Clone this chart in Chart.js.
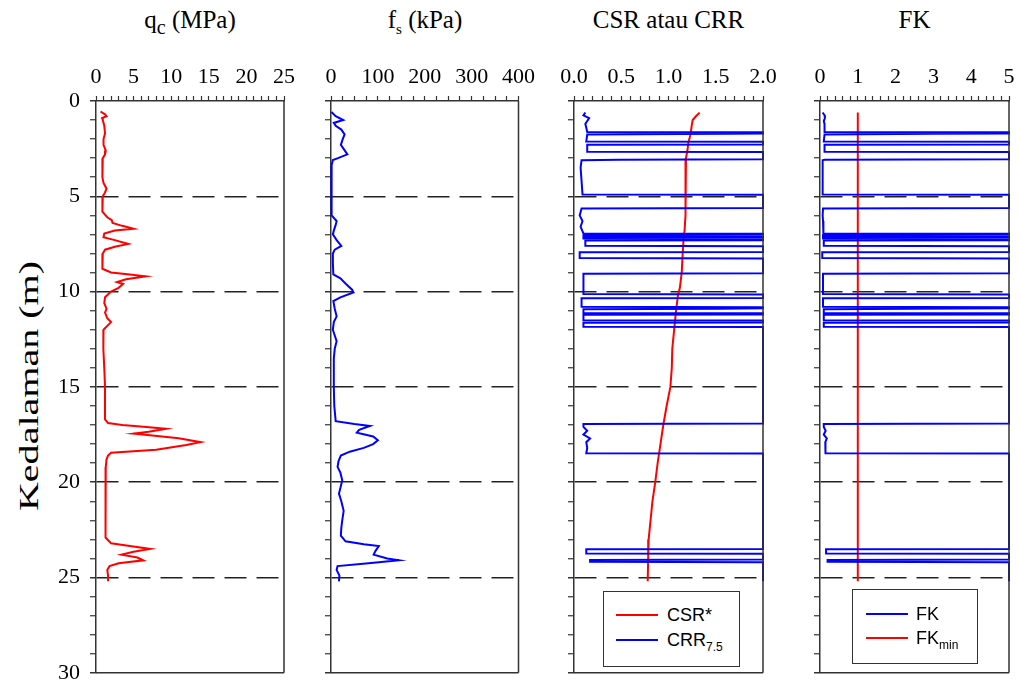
<!DOCTYPE html>
<html><head><meta charset="utf-8">
<script src="https://cdn.jsdelivr.net/npm/chart.js@4.4.0/dist/chart.umd.min.js"></script>
<style>
html,body{margin:0;padding:0;background:#fff;width:1020px;height:684px;overflow:hidden;position:relative;font-family:"Liberation Serif","Times New Roman",serif;color:#000}
canvas{position:absolute;top:0}
.title{position:absolute;top:7px;font-size:25px;line-height:25px;text-align:center;white-space:nowrap}
.title sub{font-size:20px;vertical-align:-6px;line-height:0}
.ylab{position:absolute;left:29px;top:386px;font-size:28px;line-height:28px;white-space:nowrap;transform:translate(-50%,-50%) rotate(-90deg) scaleX(1.43)}
.legend{position:absolute;border:1px solid #333;background:#fff;font-family:"Liberation Sans",Arial,sans-serif;font-size:18px;color:#000}
.legend .sw{position:absolute;height:2px}
.legend .tx{position:absolute;line-height:20px}
.legend sub{font-size:12px;vertical-align:-5px;line-height:0}
</style></head>
<body>
<div class="title" style="left:96px;width:188px">q<sub>c</sub> (MPa)</div>
<div class="title" style="left:331px;width:188px">f<sub style="font-size:15px">s</sub> (kPa)</div>
<div class="title" style="left:574px;width:189px">CSR atau CRR</div>
<div class="title" style="left:820px;width:189px">FK</div>
<div class="ylab">Kedalaman (m)</div>

<canvas id="c0"></canvas><canvas id="c1"></canvas><canvas id="c2"></canvas><canvas id="c3"></canvas>

<div class="legend" style="left:603px;top:591px;width:135px;height:74px">
  <div class="sw" style="left:12px;top:22px;width:42px;background:#ff0000"></div>
  <div class="tx" style="left:63px;top:13px">CSR*</div>
  <div class="sw" style="left:12px;top:47px;width:42px;background:#0000ff"></div>
  <div class="tx" style="left:63px;top:38px">CRR<sub>7.5</sub></div>
</div>
<div class="legend" style="left:852px;top:589px;width:124px;height:73px">
  <div class="sw" style="left:13px;top:23px;width:42px;background:#0000ff"></div>
  <div class="tx" style="left:63px;top:14px">FK</div>
  <div class="sw" style="left:13px;top:47px;width:42px;background:#ff0000"></div>
  <div class="tx" style="left:63px;top:38px">FK<sub>min</sub></div>
</div>

<script>
// ---- data (depth in m) ----
const depthTicks = [0, 5, 10, 15, 20, 25, 30];

const qcDepth = [0.55,0.7,0.8,0.9,1.0,1.3,1.7,2.0,2.3,2.6,2.8,3.0,3.5,4.0,4.3,4.6,4.8,5.0,5.4,5.8,
  6.1,6.25,6.4,6.55,6.7,6.8,6.95,7.15,7.3,7.5,7.65,7.8,8.0,8.4,8.8,9.0,9.1,9.2,9.35,9.5,
  9.6,9.8,10.0,10.3,10.6,10.9,11.1,11.4,11.6,11.8,12.0,12.5,13.0,14.0,15.0,16.0,16.7,16.9,17.0,17.1,
  17.2,17.35,17.45,17.55,17.7,17.9,18.05,18.3,18.45,18.6,18.8,19.2,19.5,20.0,21.0,22.0,22.6,22.9,23.2,23.35,
  23.5,23.65,23.8,23.95,24.1,24.25,24.4,24.6,24.9,25.2];
const qcValue = [0.6,1.2,1.4,0.8,0.9,1.1,1.2,1.0,1.0,1.3,1.2,0.9,0.8,0.9,1.0,1.4,1.2,0.9,0.8,0.9,
  1.5,2.1,2.2,3.5,5.0,2.5,1.1,1.0,2.5,4.3,2.5,1.2,0.9,0.8,0.9,2.0,4.5,6.6,4.0,2.8,
  3.6,3.0,2.0,1.2,1.1,1.4,1.2,1.5,2.0,1.5,1.0,0.95,1.0,1.1,1.2,1.2,1.2,1.6,3.5,6.7,
  9.3,7.0,5.0,7.5,11.0,13.9,12.0,8.0,2.0,1.6,1.4,1.3,1.2,1.3,1.3,1.3,1.3,1.2,2.0,4.5,
  7.2,5.0,3.4,5.5,6.3,3.0,1.8,1.5,1.6,1.6];

const fsDepth = [0.58,0.8,1.0,1.15,1.3,1.5,1.75,2.0,2.3,2.55,2.8,3.0,3.1,3.4,4.0,5.0,6.0,6.3,6.5,6.8,
  7.0,7.3,7.6,7.8,8.0,8.5,9.1,9.3,9.6,9.9,10.05,10.3,10.5,10.9,11.3,11.6,12.0,12.3,12.6,13.0,
  13.5,14.0,15.0,16.0,16.8,16.95,17.05,17.25,17.4,17.6,17.8,18.0,18.2,18.4,18.6,18.9,19.2,19.5,19.9,20.3,
  20.6,21.0,21.5,22.0,22.4,22.8,23.1,23.25,23.35,23.6,23.8,24.0,24.1,24.25,24.4,24.6,24.9,25.2];
const fsValue = [1,10,26,6,10,22,29,25,21,28,35,15,4,1,1,1,2,12,10,6,
  4,12,22,8,4,4,5,20,32,45,48,20,5,8,12,6,4,8,12,8,
  6,6,6,7,10,50,83,60,55,90,100,90,70,40,21,16,14,20,24,20,
  17,22,27,24,22,21,31,70,102,95,91,120,145,80,14,12,18,17];

const csrDepth = [0.61,0.8,1.0,1.3,1.7,2.2,2.6,3.0,4.0,5.0,6.0,6.8,7.2,8.0,9.0,9.8,10.2,11.0,11.5,12.0,
  13.0,14.0,15.0,16.0,17.0,18.0,19.0,20.0,21.0,22.0,23.0,24.0,25.2];
const csrValue = [1.33,1.29,1.256,1.245,1.235,1.21,1.2,1.185,1.18,1.18,1.18,1.17,1.16,1.15,1.14,1.12,1.1,1.08,1.07,1.06,
  1.04,1.035,1.02,0.98,0.945,0.915,0.885,0.86,0.83,0.81,0.79,0.785,0.78];

const crrDepth = [0.6,0.75,0.9,1.05,1.2,1.4,1.62,1.64,1.7,1.72,
  1.76,2.12,2.14,2.28,2.3,2.66,2.68,3.06,3.08,3.11,
  3.5,4.2,4.9,4.92,5.62,5.64,6.0,6.3,6.6,6.95,
  6.97,7.02,7.04,7.08,7.1,7.16,7.18,7.22,7.24,7.3,
  7.32,7.6,7.62,7.92,7.94,8.24,8.26,9.04,9.06,9.5,
  10.13,10.15,10.33,10.35,10.8,10.82,10.88,10.9,10.93,11.12,
  11.14,11.2,11.22,11.5,11.52,11.62,11.64,11.84,11.86,16.92,
  16.94,17.1,17.3,17.5,17.7,17.9,18.2,18.48,18.5,23.5,
  23.52,23.74,23.76,24.06,24.08,24.18,24.2,25.2];
const crrValue = [0.12,0.1,0.16,0.14,0.12,0.13,0.14,2.0,2.0,1.63,
  0.14,0.13,2.0,2.0,0.14,0.14,2.0,2.0,0.48,0.08,
  0.07,0.08,0.09,2.0,2.0,0.08,0.06,0.09,0.07,0.1,
  2.0,2.0,0.1,0.1,2.0,2.0,0.1,0.1,2.0,2.0,
  0.12,0.12,2.0,2.0,0.06,0.06,2.0,2.0,0.1,0.1,
  0.1,2.0,2.0,0.08,0.08,2.0,2.0,1.55,0.1,0.1,
  2.0,2.0,0.1,0.1,2.0,2.0,0.1,0.1,2.0,2.0,
  0.1,0.1,0.14,0.1,0.17,0.13,0.14,0.13,2.0,2.0,
  0.13,0.13,2.0,2.0,0.17,0.17,2.0,2.0];

const fkDepth = crrDepth;
const fkValue = [0.07,0.12,0.13,0.1,0.12,0.12,0.12,5,5,3.04,
  0.12,0.1,5,5,0.12,0.12,5,5,0.12,0.07,
  0.07,0.07,0.07,5,5,0.08,0.07,0.08,0.1,0.08,
  5,5,0.08,0.08,5,5,0.08,0.08,5,5,
  0.1,0.1,5,5,0.06,0.06,5,5,0.08,0.08,
  0.08,5,5,0.08,0.08,5,5,2.5,0.1,0.1,
  5,5,0.1,0.1,5,5,0.1,0.1,5,5,
  0.1,0.1,0.15,0.1,0.18,0.14,0.15,0.14,5,5,
  0.16,0.16,5,5,0.2,0.2,5,5];

const fkMinDepth = [0.6, 25.2];
const fkMinValue = [1, 1];

// ---- layout ----
const panels = [
  {id:'c0', L:96,  R:284, min:0, max:25,  minor:1,   major:5,   dec:0, ylabels:true,
   sets:[{d:qcDepth, v:qcValue, c:'#ff0000'}]},
  {id:'c1', L:331, R:519, min:0, max:400, minor:25,  major:100, dec:0,
   sets:[{d:fsDepth, v:fsValue, c:'#0000ff'}]},
  {id:'c2', L:574, R:763, min:0, max:2,   minor:0.1, major:0.5, dec:1,
   sets:[{d:crrDepth, v:crrValue, c:'#0000ff'}, {d:csrDepth, v:csrValue, c:'#ff0000'}]},
  {id:'c3', L:820, R:1009, min:0, max:5,  minor:0.2, major:1,   dec:0,
   sets:[{d:fkDepth, v:fkValue, c:'#0000ff'}, {d:fkMinDepth, v:fkMinValue, c:'#ff0000'}]}
];
const TOP = 101, CH = 696;
const axisColor = '#333';
const serif = '"Liberation Serif","Times New Roman",serif';

const framePlugin = {
  id:'frame',
  afterDraw(chart){
    const {ctx, chartArea:a} = chart;
    ctx.save();
    ctx.strokeStyle = axisColor; ctx.lineWidth = 1.5;
    ctx.beginPath();
    ctx.moveTo(a.right, a.top); ctx.lineTo(a.right, a.bottom);
    ctx.moveTo(a.left, a.bottom); ctx.lineTo(a.right, a.bottom);
    ctx.stroke();
    ctx.restore();
  }
};

const isMult = (v, m) => Math.abs(v / m - Math.round(v / m)) < 1e-6;

panels.forEach((p, i) => {
  const cl = i === 0 ? 0 : p.L - 40;
  const cw = (p.R - cl) + 22;
  const cv = document.getElementById(p.id);
  cv.width = cw; cv.height = CH;
  cv.style.left = cl + 'px'; cv.style.width = cw + 'px'; cv.style.height = CH + 'px';
  new Chart(cv.getContext('2d'), {
    type: 'scatter',
    data: {
      datasets: p.sets.map(s => ({
        data: s.d.map((d, k) => ({x: s.v[k], y: d})),
        showLine: true, borderColor: s.c, backgroundColor: s.c,
        borderWidth: 2, pointRadius: 0, tension: 0, clip: 6
      }))
    },
    options: {
      responsive: false, animation: false, devicePixelRatio: 1,
      layout: {autoPadding: false, padding: {left: 0, right: 22, top: 0, bottom: 12}},
      plugins: {legend: {display: false}, tooltip: {enabled: false}},
      scales: {
        x: {
          type: 'linear', position: 'top', min: p.min, max: p.max,
          afterFit: s => { s.height = TOP; },
          ticks: {stepSize: p.minor, autoSkip: false, maxRotation: 0, padding: 6,
            color: '#000', font: {family: serif, size: 22},
            callback: v => isMult(v, p.major) ? (+v).toFixed(p.dec) : ''},
          grid: {drawOnChartArea: false, drawTicks: true, tickLength: 5, tickColor: axisColor, tickWidth: 1.2},
          border: {color: axisColor, width: 1.5}
        },
        y: {
          type: 'linear', reverse: true, min: 0, max: 30,
          afterFit: s => { s.width = p.L - cl; },
          ticks: {stepSize: 1, autoSkip: false, padding: 10, color: '#000',
            font: {family: serif, size: 22},
            callback: v => (p.ylabels && depthTicks.includes(v)) ? String(v) : ''},
          grid: {
            drawOnChartArea: true, drawTicks: true, tickLength: 6, tickColor: axisColor,
            tickWidth: c => (c.tick && c.tick.value % 5 === 0) ? 1.5 : 1.2,
            color: c => { const v = c.tick ? c.tick.value : -1; return (v % 5 === 0 && v > 0 && v < 30) ? '#222' : 'rgba(0,0,0,0)'; },
            lineWidth: 1.5
          },
          border: {color: axisColor, width: 1.5, dash: [22, 10]}
        }
      }
    },
    plugins: [framePlugin]
  });
});
</script>
</body></html>
